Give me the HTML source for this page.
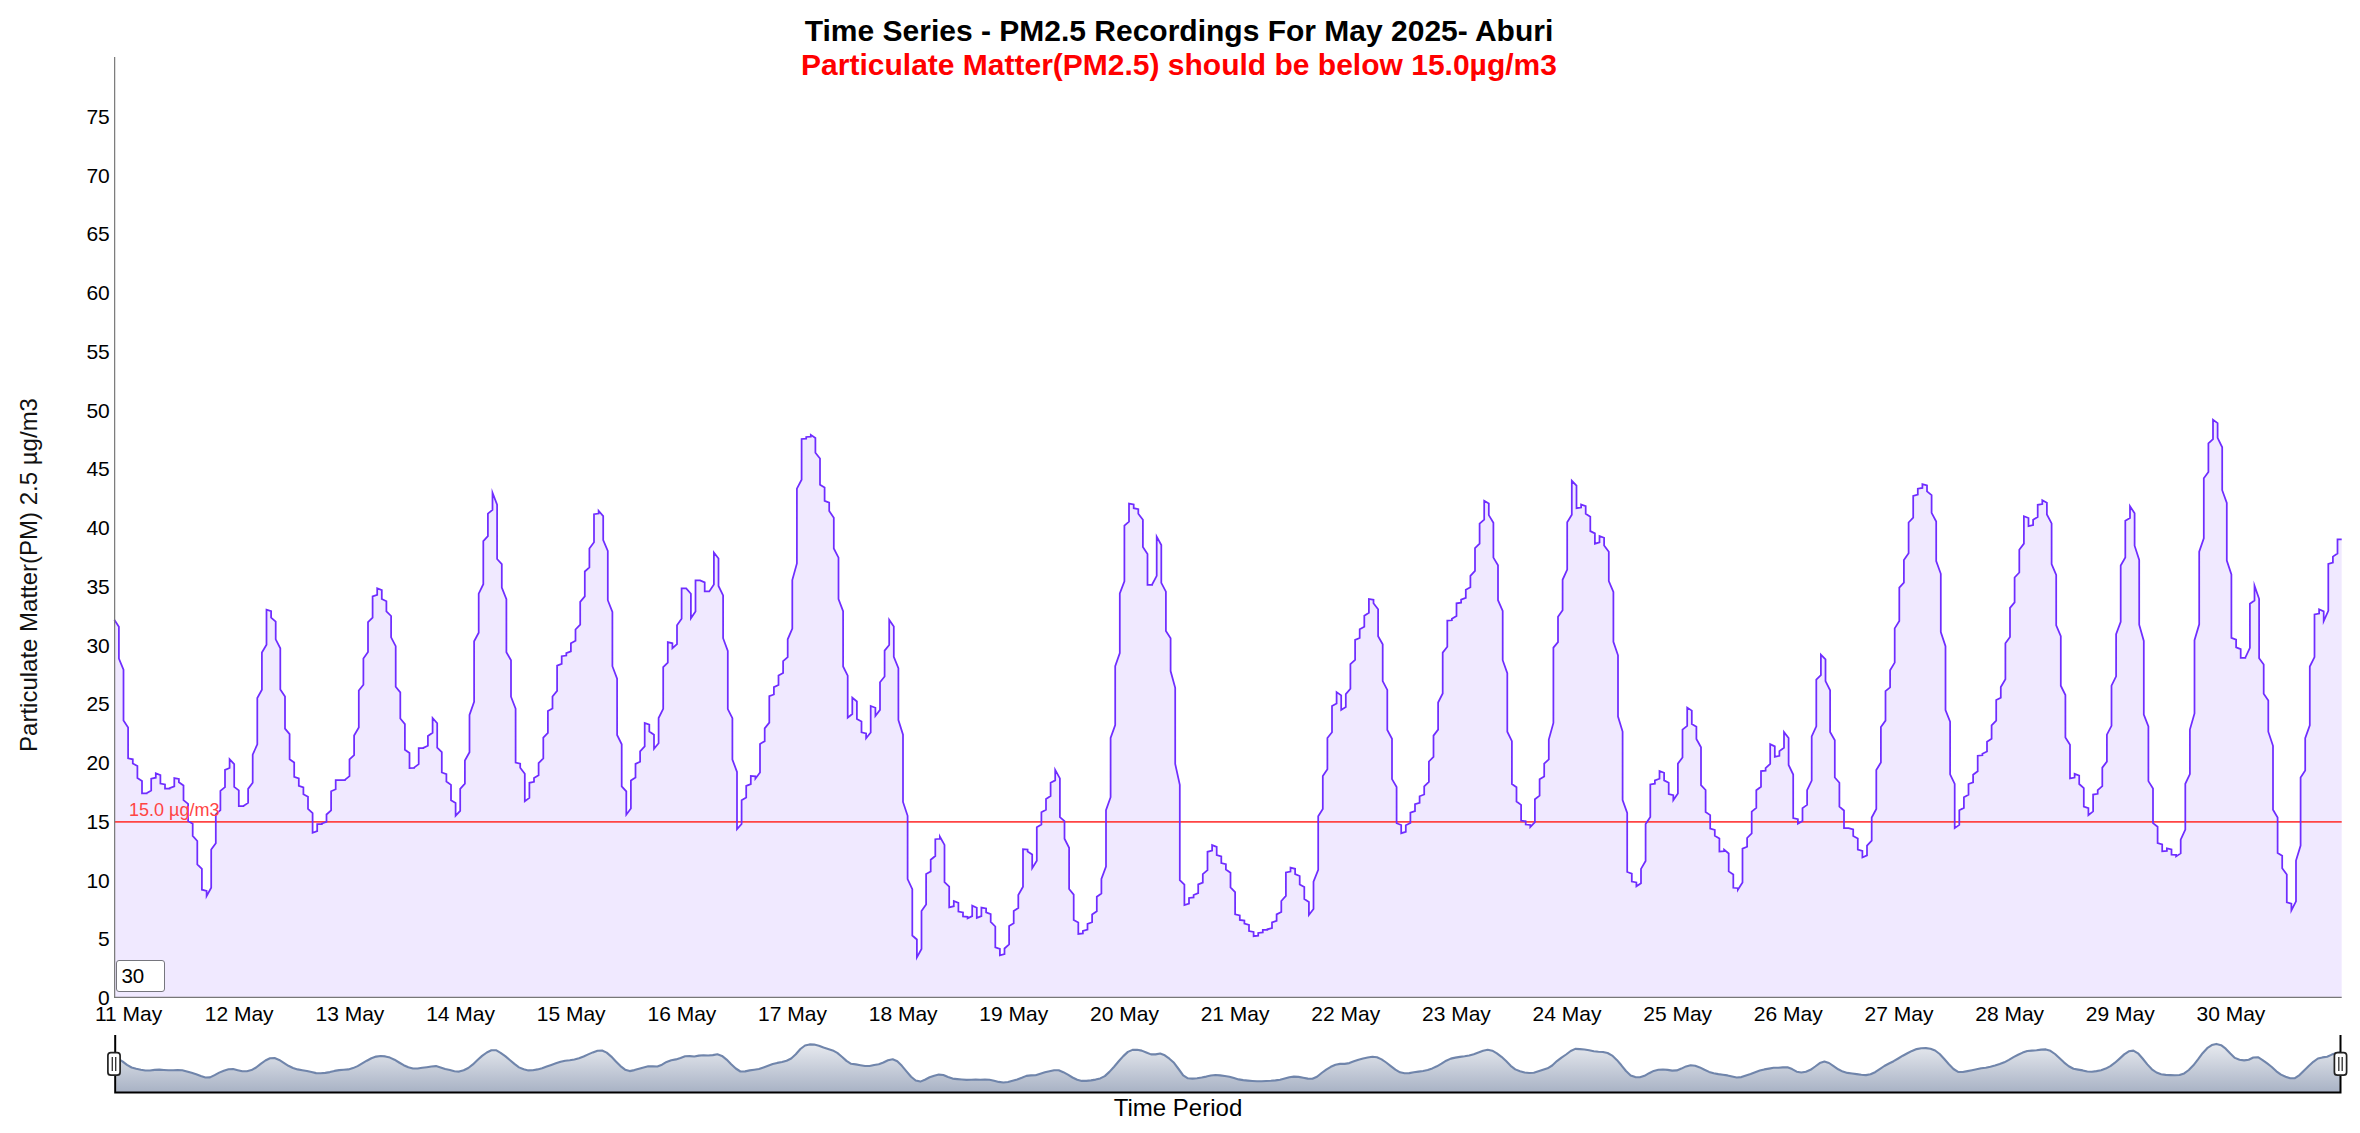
<!DOCTYPE html>
<html lang="en"><head><meta charset="utf-8"><title>Time Series - PM2.5 Recordings For May 2025- Aburi</title>
<style>
html,body{margin:0;padding:0;background:#fff;}
body{width:2360px;height:1133px;position:relative;overflow:hidden;font-family:'Liberation Sans', sans-serif;color:#000;}
svg{position:absolute;left:0;top:0;}
.t{position:absolute;white-space:nowrap;line-height:1;}
.title{left:1px;width:2356px;text-align:center;font-weight:bold;font-size:30px;}
.yl{font-size:21px;width:60px;text-align:right;left:49.8px;}
.xl{font-size:21px;width:120px;text-align:center;}
.roller{position:absolute;left:116px;top:960px;height:29.6px;border:1.2px solid #76767e;border-radius:3px;background:#fff;font-size:20.5px;line-height:30px;padding-left:4.4px;box-sizing:content-box;width:42.4px;}
</style></head><body>

<svg width="2360" height="1133" viewBox="0 0 2360 1133">
<defs><linearGradient id="mg" x1="0" y1="1026" x2="0" y2="1093" gradientUnits="userSpaceOnUse"><stop offset="0" stop-color="#ffffff"/><stop offset="1" stop-color="#a7b1c4"/></linearGradient></defs>
<path d="M114.3,619.7 L118.9,626.7 L118.9,658.5 L123.5,669.7 L123.5,720.6 L128.1,727.4 L128.1,758.4 L132.8,759.3 L132.8,763.4 L137.4,766.1 L137.4,778.1 L142.0,780.9 L142.0,793.4 L146.6,793.4 L146.6,793.2 L151.2,790.6 L151.2,778.7 L155.8,777.7 L155.8,773.2 L160.4,775.1 L160.4,783.5 L165.0,784.5 L165.0,788.7 L169.6,788.6 L169.6,788.1 L174.3,786.3 L174.3,778.1 L178.9,778.9 L178.9,782.2 L183.5,785.5 L183.5,800.1 L188.1,803.9 L188.1,821.1 L192.7,823.8 L192.7,835.9 L197.3,841.0 L197.3,864.4 L201.9,868.9 L201.9,889.7 L206.6,890.9 L206.6,896.1 L211.2,887.7 L211.2,849.6 L215.8,843.2 L215.8,814.3 L220.4,810.1 L220.4,790.8 L225.0,787.1 L225.0,769.9 L229.6,768.0 L229.6,759.2 L234.2,764.2 L234.2,786.9 L238.8,790.4 L238.8,806.2 L243.4,806.2 L243.4,806.0 L248.1,802.9 L248.1,788.9 L252.7,782.8 L252.7,754.6 L257.3,744.4 L257.3,698.0 L261.9,689.8 L261.9,652.6 L266.5,644.8 L266.5,609.7 L271.1,611.1 L271.1,617.7 L275.7,621.6 L275.7,639.3 L280.3,648.3 L280.3,689.4 L285.0,696.5 L285.0,728.6 L289.6,734.1 L289.6,759.3 L294.2,762.5 L294.2,776.8 L298.8,778.4 L298.8,785.8 L303.4,787.3 L303.4,794.2 L308.0,796.8 L308.0,808.8 L312.6,813.1 L312.6,832.8 L317.2,831.2 L317.2,824.2 L321.9,824.1 L321.9,823.5 L326.5,821.9 L326.5,814.5 L331.1,810.3 L331.1,791.2 L335.7,789.2 L335.7,780.2 L340.3,780.2 L340.3,780.2 L344.9,780.2 L344.9,779.9 L349.5,776.2 L349.5,759.3 L354.1,755.1 L354.1,735.6 L358.8,727.5 L358.8,690.5 L363.4,684.7 L363.4,658.5 L368.0,652.0 L368.0,622.2 L372.6,617.6 L372.6,596.4 L377.2,594.9 L377.2,588.2 L381.8,590.1 L381.8,599.0 L386.4,601.2 L386.4,611.3 L391.1,616.0 L391.1,637.3 L395.7,646.2 L395.7,686.7 L400.3,692.4 L400.3,718.5 L404.9,724.1 L404.9,749.7 L409.5,753.0 L409.5,768.1 L414.1,768.0 L414.1,767.6 L418.7,764.1 L418.7,748.2 L423.3,748.1 L423.3,747.9 L427.9,745.8 L427.9,736.0 L432.6,732.7 L432.6,718.0 L437.2,723.3 L437.2,747.6 L441.8,752.1 L441.8,772.5 L446.4,774.1 L446.4,781.5 L451.0,784.9 L451.0,800.2 L455.6,803.0 L455.6,815.7 L460.2,810.9 L460.2,788.8 L464.9,783.7 L464.9,760.5 L469.5,752.3 L469.5,715.0 L474.1,701.8 L474.1,641.3 L478.7,632.7 L478.7,593.7 L483.3,584.2 L483.3,541.1 L487.9,536.1 L487.9,513.7 L492.5,509.9 L492.5,492.7 L497.1,504.6 L497.1,559.0 L501.8,564.2 L501.8,587.5 L506.4,599.1 L506.4,652.2 L511.0,660.2 L511.0,696.7 L515.6,708.6 L515.6,762.6 L520.2,763.6 L520.2,767.8 L524.8,773.8 L524.8,801.2 L529.4,797.9 L529.4,782.8 L534.0,781.9 L534.0,777.9 L538.6,775.2 L538.6,763.1 L543.3,758.5 L543.3,737.6 L547.9,732.8 L547.9,711.1 L552.5,708.4 L552.5,696.5 L557.1,690.9 L557.1,665.6 L561.7,663.9 L561.7,656.2 L566.3,655.6 L566.3,653.1 L570.9,651.4 L570.9,643.3 L575.5,640.8 L575.5,629.5 L580.2,624.6 L580.2,601.9 L584.8,596.4 L584.8,571.5 L589.4,567.4 L589.4,548.5 L594.0,542.3 L594.0,514.2 L598.6,513.6 L598.6,510.8 L603.2,516.1 L603.2,540.1 L607.8,550.9 L607.8,600.2 L612.4,612.0 L612.4,666.2 L617.1,678.6 L617.1,735.0 L621.7,744.3 L621.7,786.4 L626.3,791.4 L626.3,814.7 L630.9,808.5 L630.9,780.5 L635.5,777.5 L635.5,763.9 L640.1,761.7 L640.1,751.3 L644.7,746.3 L644.7,723.0 L649.3,724.6 L649.3,731.6 L654.0,734.7 L654.0,748.9 L658.6,743.3 L658.6,718.0 L663.2,708.8 L663.2,667.1 L667.8,662.6 L667.8,642.2 L672.4,643.3 L672.4,648.2 L677.0,644.1 L677.0,625.3 L681.6,618.7 L681.6,588.4 L686.2,588.4 L686.2,588.4 L690.9,593.8 L690.9,618.3 L695.5,611.4 L695.5,580.4 L700.1,580.4 L700.1,580.4 L704.7,582.4 L704.7,591.4 L709.3,591.4 L709.3,591.4 L713.9,584.4 L713.9,552.5 L718.5,558.5 L718.5,586.0 L723.1,595.4 L723.1,638.2 L727.8,651.0 L727.8,709.1 L732.4,718.1 L732.4,759.5 L737.0,772.0 L737.0,829.2 L741.6,824.0 L741.6,800.2 L746.2,797.6 L746.2,785.9 L750.8,784.1 L750.8,775.9 L755.4,776.4 L755.4,778.7 L760.0,772.5 L760.0,743.9 L764.7,741.2 L764.7,728.4 L769.3,722.6 L769.3,696.1 L773.9,694.5 L773.9,687.1 L778.5,685.0 L778.5,675.6 L783.1,673.0 L783.1,661.1 L787.7,657.2 L787.7,639.3 L792.3,628.6 L792.3,580.0 L796.9,563.5 L796.9,488.7 L801.6,479.7 L801.6,439.0 L806.2,438.6 L806.2,437.0 L810.8,436.6 L810.8,434.8 L815.4,438.0 L815.4,452.7 L820.0,458.5 L820.0,484.7 L824.6,487.6 L824.6,500.8 L829.2,502.6 L829.2,511.1 L833.8,517.8 L833.8,548.5 L838.5,557.6 L838.5,599.1 L843.1,611.2 L843.1,666.5 L847.7,675.7 L847.7,717.6 L852.3,714.0 L852.3,697.7 L856.9,701.5 L856.9,719.0 L861.5,721.5 L861.5,732.4 L866.1,733.5 L866.1,738.3 L870.7,732.5 L870.7,706.0 L875.4,707.8 L875.4,716.0 L880.0,709.9 L880.0,682.2 L884.6,676.5 L884.6,650.6 L889.2,645.0 L889.2,619.9 L893.8,626.5 L893.8,656.8 L898.4,668.2 L898.4,720.0 L903.0,734.7 L903.0,801.9 L907.6,815.8 L907.6,879.0 L912.3,889.2 L912.3,935.5 L916.9,939.5 L916.9,957.4 L921.5,949.0 L921.5,911.0 L926.1,904.4 L926.1,874.1 L930.7,871.5 L930.7,859.7 L935.3,856.0 L935.3,839.2 L939.9,838.8 L939.9,836.7 L944.5,844.9 L944.5,882.1 L949.2,886.6 L949.2,907.3 L953.8,906.2 L953.8,901.0 L958.4,902.9 L958.4,911.6 L963.0,912.4 L963.0,916.4 L967.6,916.8 L967.6,918.4 L972.2,916.1 L972.2,905.6 L976.8,907.8 L976.8,917.9 L981.4,916.1 L981.4,907.6 L986.1,908.4 L986.1,912.4 L990.7,914.1 L990.7,921.9 L995.3,926.5 L995.3,947.4 L999.9,948.8 L999.9,955.4 L1004.5,954.1 L1004.5,948.5 L1009.1,944.4 L1009.1,925.9 L1013.7,923.2 L1013.7,911.0 L1018.3,908.1 L1018.3,895.0 L1023.0,886.7 L1023.0,849.1 L1027.6,849.5 L1027.6,851.5 L1032.2,854.5 L1032.2,868.1 L1036.8,860.8 L1036.8,827.2 L1041.4,824.5 L1041.4,812.2 L1046.0,809.8 L1046.0,798.9 L1050.6,796.0 L1050.6,782.7 L1055.2,780.4 L1055.2,769.9 L1059.9,778.4 L1059.9,817.2 L1064.5,821.1 L1064.5,838.7 L1069.1,847.8 L1069.1,889.0 L1073.7,894.6 L1073.7,919.9 L1078.3,922.4 L1078.3,933.9 L1082.9,933.4 L1082.9,931.0 L1087.5,929.7 L1087.5,923.9 L1092.1,922.2 L1092.1,914.5 L1096.8,911.3 L1096.8,896.7 L1101.4,893.5 L1101.4,879.0 L1106.0,866.6 L1106.0,810.2 L1110.6,797.2 L1110.6,738.0 L1115.2,725.0 L1115.2,666.2 L1119.8,653.1 L1119.8,593.5 L1124.4,581.3 L1124.4,525.7 L1129.0,521.7 L1129.0,503.6 L1133.7,504.4 L1133.7,508.2 L1138.3,509.2 L1138.3,513.7 L1142.9,519.7 L1142.9,547.1 L1147.5,553.9 L1147.5,584.9 L1152.1,584.8 L1152.1,584.5 L1156.7,575.9 L1156.7,536.7 L1161.3,545.0 L1161.3,582.9 L1165.9,591.6 L1165.9,631.1 L1170.6,638.3 L1170.6,671.1 L1175.2,687.8 L1175.2,763.9 L1179.8,784.8 L1179.8,880.1 L1184.4,884.6 L1184.4,905.0 L1189.0,903.7 L1189.0,898.0 L1193.6,897.4 L1193.6,895.0 L1198.2,893.1 L1198.2,884.4 L1202.8,882.6 L1202.8,874.1 L1207.5,870.1 L1207.5,851.8 L1212.1,850.6 L1212.1,845.1 L1216.7,846.9 L1216.7,855.1 L1221.3,856.5 L1221.3,863.1 L1225.9,864.2 L1225.9,869.5 L1230.5,872.7 L1230.5,887.4 L1235.1,892.2 L1235.1,914.4 L1239.8,915.4 L1239.8,919.9 L1244.4,920.6 L1244.4,923.6 L1249.0,924.9 L1249.0,931.0 L1253.6,931.9 L1253.6,936.2 L1258.2,935.7 L1258.2,933.0 L1262.8,932.4 L1262.8,929.9 L1267.4,929.8 L1267.4,929.3 L1272.0,928.1 L1272.0,922.4 L1276.6,920.9 L1276.6,914.4 L1281.3,912.0 L1281.3,901.0 L1285.9,895.9 L1285.9,872.5 L1290.5,871.6 L1290.5,867.6 L1295.1,868.8 L1295.1,874.1 L1299.7,876.0 L1299.7,884.4 L1304.3,887.1 L1304.3,899.0 L1308.9,901.9 L1308.9,915.0 L1313.5,909.0 L1313.5,881.6 L1318.2,869.8 L1318.2,816.2 L1322.8,809.0 L1322.8,776.1 L1327.4,769.3 L1327.4,738.0 L1332.0,732.2 L1332.0,706.0 L1336.6,703.5 L1336.6,692.1 L1341.2,695.4 L1341.2,710.0 L1345.8,707.1 L1345.8,694.1 L1350.4,688.7 L1350.4,664.2 L1355.1,659.8 L1355.1,639.9 L1359.7,638.0 L1359.7,629.3 L1364.3,626.8 L1364.3,615.7 L1368.9,612.7 L1368.9,599.0 L1373.5,599.8 L1373.5,603.3 L1378.1,609.3 L1378.1,636.2 L1382.7,644.3 L1382.7,681.1 L1387.3,689.9 L1387.3,730.0 L1392.0,738.8 L1392.0,779.1 L1396.6,787.0 L1396.6,823.2 L1401.2,825.0 L1401.2,833.2 L1405.8,831.8 L1405.8,825.2 L1410.4,823.0 L1410.4,812.7 L1415.0,811.1 L1415.0,804.2 L1419.6,802.8 L1419.6,796.3 L1424.2,794.5 L1424.2,786.4 L1428.9,781.9 L1428.9,761.5 L1433.5,756.8 L1433.5,735.6 L1438.1,729.6 L1438.1,702.5 L1442.7,693.5 L1442.7,652.6 L1447.3,646.8 L1447.3,620.6 L1451.9,620.3 L1451.9,618.7 L1456.5,616.0 L1456.5,603.3 L1461.1,602.7 L1461.1,599.7 L1465.8,597.9 L1465.8,589.8 L1470.4,587.3 L1470.4,575.8 L1475.0,570.8 L1475.0,548.0 L1479.6,543.6 L1479.6,523.7 L1484.2,519.6 L1484.2,500.8 L1488.8,503.4 L1488.8,515.1 L1493.4,522.8 L1493.4,557.6 L1498.0,565.3 L1498.0,600.2 L1502.7,611.0 L1502.7,660.2 L1507.3,673.1 L1507.3,731.7 L1511.9,741.1 L1511.9,784.0 L1516.5,787.2 L1516.5,801.5 L1521.1,804.9 L1521.1,820.5 L1525.7,821.3 L1525.7,824.5 L1530.3,825.0 L1530.3,827.1 L1534.9,822.1 L1534.9,799.2 L1539.6,795.6 L1539.6,779.3 L1544.2,776.5 L1544.2,763.6 L1548.8,759.3 L1548.8,739.6 L1553.4,723.0 L1553.4,647.6 L1558.0,642.1 L1558.0,616.8 L1562.6,610.2 L1562.6,579.8 L1567.2,569.5 L1567.2,522.2 L1571.8,514.7 L1571.8,480.8 L1576.5,485.7 L1576.5,508.2 L1581.1,507.5 L1581.1,504.5 L1585.7,506.2 L1585.7,513.7 L1590.3,516.8 L1590.3,531.1 L1594.9,533.4 L1594.9,543.7 L1599.5,542.3 L1599.5,536.1 L1604.1,537.8 L1604.1,545.4 L1608.8,551.8 L1608.8,581.0 L1613.4,592.0 L1613.4,641.9 L1618.0,655.3 L1618.0,716.6 L1622.6,731.6 L1622.6,800.1 L1627.2,813.0 L1627.2,872.0 L1631.8,873.7 L1631.8,881.5 L1636.4,882.4 L1636.4,886.3 L1641.0,883.2 L1641.0,868.9 L1645.6,860.9 L1645.6,824.1 L1650.3,816.9 L1650.3,784.5 L1654.9,783.7 L1654.9,780.4 L1659.5,778.7 L1659.5,771.1 L1664.1,772.8 L1664.1,780.4 L1668.7,782.8 L1668.7,794.1 L1673.3,795.2 L1673.3,800.1 L1677.9,793.5 L1677.9,763.6 L1682.5,757.5 L1682.5,729.7 L1687.2,725.8 L1687.2,707.6 L1691.8,710.6 L1691.8,724.0 L1696.4,726.7 L1696.4,739.0 L1701.0,747.3 L1701.0,785.2 L1705.6,790.0 L1705.6,812.1 L1710.2,815.1 L1710.2,828.6 L1714.8,829.9 L1714.8,835.7 L1719.4,838.5 L1719.4,851.5 L1724.1,851.2 L1724.1,849.6 L1728.7,853.5 L1728.7,871.4 L1733.3,874.4 L1733.3,887.8 L1737.9,888.2 L1737.9,889.8 L1742.5,882.4 L1742.5,848.6 L1747.1,846.7 L1747.1,838.0 L1751.7,833.3 L1751.7,811.7 L1756.3,807.9 L1756.3,790.2 L1761.0,786.8 L1761.0,771.1 L1765.6,770.6 L1765.6,768.1 L1770.2,763.8 L1770.2,744.1 L1774.8,746.4 L1774.8,756.9 L1779.4,755.8 L1779.4,751.1 L1784.0,747.7 L1784.0,732.1 L1788.6,738.0 L1788.6,765.0 L1793.2,774.5 L1793.2,818.1 L1797.9,819.1 L1797.9,823.7 L1802.5,820.9 L1802.5,808.1 L1807.1,804.9 L1807.1,790.2 L1811.7,780.6 L1811.7,736.5 L1816.3,726.3 L1816.3,679.7 L1820.9,675.2 L1820.9,654.6 L1825.5,659.3 L1825.5,681.1 L1830.1,690.3 L1830.1,732.0 L1834.8,740.2 L1834.8,777.5 L1839.4,782.8 L1839.4,806.7 L1844.0,810.5 L1844.0,828.1 L1848.6,828.1 L1848.6,828.1 L1853.2,829.5 L1853.2,836.0 L1857.8,838.5 L1857.8,849.6 L1862.4,851.0 L1862.4,857.5 L1867.0,855.4 L1867.0,845.7 L1871.7,840.6 L1871.7,817.5 L1876.3,809.0 L1876.3,770.1 L1880.9,762.4 L1880.9,727.0 L1885.5,720.6 L1885.5,691.1 L1890.1,687.3 L1890.1,670.2 L1894.7,662.6 L1894.7,628.4 L1899.3,621.0 L1899.3,587.6 L1903.9,582.6 L1903.9,560.0 L1908.6,553.2 L1908.6,522.5 L1913.2,517.7 L1913.2,495.9 L1917.8,494.6 L1917.8,488.7 L1922.4,487.9 L1922.4,484.2 L1927.0,485.5 L1927.0,491.3 L1931.6,495.1 L1931.6,512.8 L1936.2,521.5 L1936.2,561.0 L1940.8,573.8 L1940.8,632.1 L1945.5,646.1 L1945.5,710.0 L1950.1,721.6 L1950.1,774.3 L1954.7,783.9 L1954.7,828.1 L1959.3,824.9 L1959.3,810.3 L1963.9,807.9 L1963.9,797.2 L1968.5,794.8 L1968.5,784.0 L1973.1,782.3 L1973.1,774.7 L1977.7,771.3 L1977.7,755.7 L1982.4,755.3 L1982.4,753.7 L1987.0,751.5 L1987.0,741.7 L1991.6,738.8 L1991.6,725.3 L1996.2,720.7 L1996.2,700.0 L2000.8,697.7 L2000.8,687.1 L2005.4,679.2 L2005.4,643.3 L2010.0,636.9 L2010.0,607.9 L2014.6,602.4 L2014.6,577.5 L2019.3,572.5 L2019.3,549.7 L2023.9,543.6 L2023.9,516.2 L2028.5,518.0 L2028.5,526.2 L2033.1,525.0 L2033.1,519.7 L2037.7,517.0 L2037.7,504.8 L2042.3,504.0 L2042.3,500.2 L2046.9,502.8 L2046.9,514.5 L2051.6,523.4 L2051.6,564.0 L2056.2,575.0 L2056.2,625.3 L2060.8,636.2 L2060.8,685.7 L2065.4,695.0 L2065.4,737.5 L2070.0,744.8 L2070.0,778.4 L2074.6,777.5 L2074.6,773.8 L2079.2,775.6 L2079.2,784.0 L2083.8,788.1 L2083.8,806.6 L2088.4,808.1 L2088.4,815.1 L2093.1,811.4 L2093.1,794.6 L2097.7,793.8 L2097.7,790.2 L2102.3,786.1 L2102.3,767.6 L2106.9,761.6 L2106.9,734.7 L2111.5,725.8 L2111.5,685.7 L2116.1,676.4 L2116.1,634.2 L2120.7,621.9 L2120.7,565.5 L2125.3,557.5 L2125.3,520.8 L2130.0,518.1 L2130.0,506.2 L2134.6,513.3 L2134.6,545.7 L2139.2,559.9 L2139.2,624.7 L2143.8,640.9 L2143.8,714.6 L2148.4,726.5 L2148.4,781.1 L2153.0,788.6 L2153.0,823.1 L2157.6,826.7 L2157.6,843.0 L2162.2,844.5 L2162.2,851.4 L2166.9,850.9 L2166.9,848.4 L2171.5,849.5 L2171.5,854.6 L2176.1,854.9 L2176.1,856.4 L2180.7,853.4 L2180.7,839.7 L2185.3,829.6 L2185.3,783.8 L2189.9,774.0 L2189.9,729.5 L2194.5,713.4 L2194.5,640.2 L2199.2,624.3 L2199.2,551.6 L2203.8,538.4 L2203.8,478.2 L2208.4,472.0 L2208.4,443.3 L2213.0,439.1 L2213.0,419.8 L2217.6,423.1 L2217.6,437.9 L2222.2,447.3 L2222.2,490.2 L2226.8,502.9 L2226.8,560.6 L2231.4,574.5 L2231.4,637.9 L2236.1,639.6 L2236.1,647.3 L2240.7,649.2 L2240.7,657.8 L2245.3,657.8 L2245.3,657.6 L2249.9,647.9 L2249.9,603.7 L2254.5,600.5 L2254.5,585.7 L2259.1,598.8 L2259.1,658.2 L2263.7,664.6 L2263.7,693.7 L2268.3,700.5 L2268.3,731.7 L2273.0,745.8 L2273.0,809.7 L2277.6,817.5 L2277.6,853.0 L2282.2,855.7 L2282.2,868.3 L2286.8,874.5 L2286.8,902.3 L2291.4,903.7 L2291.4,910.3 L2296.0,901.3 L2296.0,860.6 L2300.6,845.6 L2300.6,777.5 L2305.2,770.5 L2305.2,738.2 L2309.8,725.3 L2309.8,666.5 L2314.5,657.1 L2314.5,614.4 L2319.1,613.5 L2319.1,609.3 L2323.7,611.4 L2323.7,621.1 L2328.3,610.8 L2328.3,564.0 L2332.9,562.7 L2332.9,556.6 L2337.5,553.5 L2337.5,539.4 L2341.7,539.4 L2341.7,539.4 L2341.7,997.8 L114.3,997.8 Z" fill="#6f2dff" fill-opacity="0.105" stroke="none"/>
<line x1="114.3" y1="821.8" x2="2341.7" y2="821.8" stroke="#f44" stroke-width="1.8"/>
<path d="M114.3,619.7 L118.9,626.7 L118.9,658.5 L123.5,669.7 L123.5,720.6 L128.1,727.4 L128.1,758.4 L132.8,759.3 L132.8,763.4 L137.4,766.1 L137.4,778.1 L142.0,780.9 L142.0,793.4 L146.6,793.4 L146.6,793.2 L151.2,790.6 L151.2,778.7 L155.8,777.7 L155.8,773.2 L160.4,775.1 L160.4,783.5 L165.0,784.5 L165.0,788.7 L169.6,788.6 L169.6,788.1 L174.3,786.3 L174.3,778.1 L178.9,778.9 L178.9,782.2 L183.5,785.5 L183.5,800.1 L188.1,803.9 L188.1,821.1 L192.7,823.8 L192.7,835.9 L197.3,841.0 L197.3,864.4 L201.9,868.9 L201.9,889.7 L206.6,890.9 L206.6,896.1 L211.2,887.7 L211.2,849.6 L215.8,843.2 L215.8,814.3 L220.4,810.1 L220.4,790.8 L225.0,787.1 L225.0,769.9 L229.6,768.0 L229.6,759.2 L234.2,764.2 L234.2,786.9 L238.8,790.4 L238.8,806.2 L243.4,806.2 L243.4,806.0 L248.1,802.9 L248.1,788.9 L252.7,782.8 L252.7,754.6 L257.3,744.4 L257.3,698.0 L261.9,689.8 L261.9,652.6 L266.5,644.8 L266.5,609.7 L271.1,611.1 L271.1,617.7 L275.7,621.6 L275.7,639.3 L280.3,648.3 L280.3,689.4 L285.0,696.5 L285.0,728.6 L289.6,734.1 L289.6,759.3 L294.2,762.5 L294.2,776.8 L298.8,778.4 L298.8,785.8 L303.4,787.3 L303.4,794.2 L308.0,796.8 L308.0,808.8 L312.6,813.1 L312.6,832.8 L317.2,831.2 L317.2,824.2 L321.9,824.1 L321.9,823.5 L326.5,821.9 L326.5,814.5 L331.1,810.3 L331.1,791.2 L335.7,789.2 L335.7,780.2 L340.3,780.2 L340.3,780.2 L344.9,780.2 L344.9,779.9 L349.5,776.2 L349.5,759.3 L354.1,755.1 L354.1,735.6 L358.8,727.5 L358.8,690.5 L363.4,684.7 L363.4,658.5 L368.0,652.0 L368.0,622.2 L372.6,617.6 L372.6,596.4 L377.2,594.9 L377.2,588.2 L381.8,590.1 L381.8,599.0 L386.4,601.2 L386.4,611.3 L391.1,616.0 L391.1,637.3 L395.7,646.2 L395.7,686.7 L400.3,692.4 L400.3,718.5 L404.9,724.1 L404.9,749.7 L409.5,753.0 L409.5,768.1 L414.1,768.0 L414.1,767.6 L418.7,764.1 L418.7,748.2 L423.3,748.1 L423.3,747.9 L427.9,745.8 L427.9,736.0 L432.6,732.7 L432.6,718.0 L437.2,723.3 L437.2,747.6 L441.8,752.1 L441.8,772.5 L446.4,774.1 L446.4,781.5 L451.0,784.9 L451.0,800.2 L455.6,803.0 L455.6,815.7 L460.2,810.9 L460.2,788.8 L464.9,783.7 L464.9,760.5 L469.5,752.3 L469.5,715.0 L474.1,701.8 L474.1,641.3 L478.7,632.7 L478.7,593.7 L483.3,584.2 L483.3,541.1 L487.9,536.1 L487.9,513.7 L492.5,509.9 L492.5,492.7 L497.1,504.6 L497.1,559.0 L501.8,564.2 L501.8,587.5 L506.4,599.1 L506.4,652.2 L511.0,660.2 L511.0,696.7 L515.6,708.6 L515.6,762.6 L520.2,763.6 L520.2,767.8 L524.8,773.8 L524.8,801.2 L529.4,797.9 L529.4,782.8 L534.0,781.9 L534.0,777.9 L538.6,775.2 L538.6,763.1 L543.3,758.5 L543.3,737.6 L547.9,732.8 L547.9,711.1 L552.5,708.4 L552.5,696.5 L557.1,690.9 L557.1,665.6 L561.7,663.9 L561.7,656.2 L566.3,655.6 L566.3,653.1 L570.9,651.4 L570.9,643.3 L575.5,640.8 L575.5,629.5 L580.2,624.6 L580.2,601.9 L584.8,596.4 L584.8,571.5 L589.4,567.4 L589.4,548.5 L594.0,542.3 L594.0,514.2 L598.6,513.6 L598.6,510.8 L603.2,516.1 L603.2,540.1 L607.8,550.9 L607.8,600.2 L612.4,612.0 L612.4,666.2 L617.1,678.6 L617.1,735.0 L621.7,744.3 L621.7,786.4 L626.3,791.4 L626.3,814.7 L630.9,808.5 L630.9,780.5 L635.5,777.5 L635.5,763.9 L640.1,761.7 L640.1,751.3 L644.7,746.3 L644.7,723.0 L649.3,724.6 L649.3,731.6 L654.0,734.7 L654.0,748.9 L658.6,743.3 L658.6,718.0 L663.2,708.8 L663.2,667.1 L667.8,662.6 L667.8,642.2 L672.4,643.3 L672.4,648.2 L677.0,644.1 L677.0,625.3 L681.6,618.7 L681.6,588.4 L686.2,588.4 L686.2,588.4 L690.9,593.8 L690.9,618.3 L695.5,611.4 L695.5,580.4 L700.1,580.4 L700.1,580.4 L704.7,582.4 L704.7,591.4 L709.3,591.4 L709.3,591.4 L713.9,584.4 L713.9,552.5 L718.5,558.5 L718.5,586.0 L723.1,595.4 L723.1,638.2 L727.8,651.0 L727.8,709.1 L732.4,718.1 L732.4,759.5 L737.0,772.0 L737.0,829.2 L741.6,824.0 L741.6,800.2 L746.2,797.6 L746.2,785.9 L750.8,784.1 L750.8,775.9 L755.4,776.4 L755.4,778.7 L760.0,772.5 L760.0,743.9 L764.7,741.2 L764.7,728.4 L769.3,722.6 L769.3,696.1 L773.9,694.5 L773.9,687.1 L778.5,685.0 L778.5,675.6 L783.1,673.0 L783.1,661.1 L787.7,657.2 L787.7,639.3 L792.3,628.6 L792.3,580.0 L796.9,563.5 L796.9,488.7 L801.6,479.7 L801.6,439.0 L806.2,438.6 L806.2,437.0 L810.8,436.6 L810.8,434.8 L815.4,438.0 L815.4,452.7 L820.0,458.5 L820.0,484.7 L824.6,487.6 L824.6,500.8 L829.2,502.6 L829.2,511.1 L833.8,517.8 L833.8,548.5 L838.5,557.6 L838.5,599.1 L843.1,611.2 L843.1,666.5 L847.7,675.7 L847.7,717.6 L852.3,714.0 L852.3,697.7 L856.9,701.5 L856.9,719.0 L861.5,721.5 L861.5,732.4 L866.1,733.5 L866.1,738.3 L870.7,732.5 L870.7,706.0 L875.4,707.8 L875.4,716.0 L880.0,709.9 L880.0,682.2 L884.6,676.5 L884.6,650.6 L889.2,645.0 L889.2,619.9 L893.8,626.5 L893.8,656.8 L898.4,668.2 L898.4,720.0 L903.0,734.7 L903.0,801.9 L907.6,815.8 L907.6,879.0 L912.3,889.2 L912.3,935.5 L916.9,939.5 L916.9,957.4 L921.5,949.0 L921.5,911.0 L926.1,904.4 L926.1,874.1 L930.7,871.5 L930.7,859.7 L935.3,856.0 L935.3,839.2 L939.9,838.8 L939.9,836.7 L944.5,844.9 L944.5,882.1 L949.2,886.6 L949.2,907.3 L953.8,906.2 L953.8,901.0 L958.4,902.9 L958.4,911.6 L963.0,912.4 L963.0,916.4 L967.6,916.8 L967.6,918.4 L972.2,916.1 L972.2,905.6 L976.8,907.8 L976.8,917.9 L981.4,916.1 L981.4,907.6 L986.1,908.4 L986.1,912.4 L990.7,914.1 L990.7,921.9 L995.3,926.5 L995.3,947.4 L999.9,948.8 L999.9,955.4 L1004.5,954.1 L1004.5,948.5 L1009.1,944.4 L1009.1,925.9 L1013.7,923.2 L1013.7,911.0 L1018.3,908.1 L1018.3,895.0 L1023.0,886.7 L1023.0,849.1 L1027.6,849.5 L1027.6,851.5 L1032.2,854.5 L1032.2,868.1 L1036.8,860.8 L1036.8,827.2 L1041.4,824.5 L1041.4,812.2 L1046.0,809.8 L1046.0,798.9 L1050.6,796.0 L1050.6,782.7 L1055.2,780.4 L1055.2,769.9 L1059.9,778.4 L1059.9,817.2 L1064.5,821.1 L1064.5,838.7 L1069.1,847.8 L1069.1,889.0 L1073.7,894.6 L1073.7,919.9 L1078.3,922.4 L1078.3,933.9 L1082.9,933.4 L1082.9,931.0 L1087.5,929.7 L1087.5,923.9 L1092.1,922.2 L1092.1,914.5 L1096.8,911.3 L1096.8,896.7 L1101.4,893.5 L1101.4,879.0 L1106.0,866.6 L1106.0,810.2 L1110.6,797.2 L1110.6,738.0 L1115.2,725.0 L1115.2,666.2 L1119.8,653.1 L1119.8,593.5 L1124.4,581.3 L1124.4,525.7 L1129.0,521.7 L1129.0,503.6 L1133.7,504.4 L1133.7,508.2 L1138.3,509.2 L1138.3,513.7 L1142.9,519.7 L1142.9,547.1 L1147.5,553.9 L1147.5,584.9 L1152.1,584.8 L1152.1,584.5 L1156.7,575.9 L1156.7,536.7 L1161.3,545.0 L1161.3,582.9 L1165.9,591.6 L1165.9,631.1 L1170.6,638.3 L1170.6,671.1 L1175.2,687.8 L1175.2,763.9 L1179.8,784.8 L1179.8,880.1 L1184.4,884.6 L1184.4,905.0 L1189.0,903.7 L1189.0,898.0 L1193.6,897.4 L1193.6,895.0 L1198.2,893.1 L1198.2,884.4 L1202.8,882.6 L1202.8,874.1 L1207.5,870.1 L1207.5,851.8 L1212.1,850.6 L1212.1,845.1 L1216.7,846.9 L1216.7,855.1 L1221.3,856.5 L1221.3,863.1 L1225.9,864.2 L1225.9,869.5 L1230.5,872.7 L1230.5,887.4 L1235.1,892.2 L1235.1,914.4 L1239.8,915.4 L1239.8,919.9 L1244.4,920.6 L1244.4,923.6 L1249.0,924.9 L1249.0,931.0 L1253.6,931.9 L1253.6,936.2 L1258.2,935.7 L1258.2,933.0 L1262.8,932.4 L1262.8,929.9 L1267.4,929.8 L1267.4,929.3 L1272.0,928.1 L1272.0,922.4 L1276.6,920.9 L1276.6,914.4 L1281.3,912.0 L1281.3,901.0 L1285.9,895.9 L1285.9,872.5 L1290.5,871.6 L1290.5,867.6 L1295.1,868.8 L1295.1,874.1 L1299.7,876.0 L1299.7,884.4 L1304.3,887.1 L1304.3,899.0 L1308.9,901.9 L1308.9,915.0 L1313.5,909.0 L1313.5,881.6 L1318.2,869.8 L1318.2,816.2 L1322.8,809.0 L1322.8,776.1 L1327.4,769.3 L1327.4,738.0 L1332.0,732.2 L1332.0,706.0 L1336.6,703.5 L1336.6,692.1 L1341.2,695.4 L1341.2,710.0 L1345.8,707.1 L1345.8,694.1 L1350.4,688.7 L1350.4,664.2 L1355.1,659.8 L1355.1,639.9 L1359.7,638.0 L1359.7,629.3 L1364.3,626.8 L1364.3,615.7 L1368.9,612.7 L1368.9,599.0 L1373.5,599.8 L1373.5,603.3 L1378.1,609.3 L1378.1,636.2 L1382.7,644.3 L1382.7,681.1 L1387.3,689.9 L1387.3,730.0 L1392.0,738.8 L1392.0,779.1 L1396.6,787.0 L1396.6,823.2 L1401.2,825.0 L1401.2,833.2 L1405.8,831.8 L1405.8,825.2 L1410.4,823.0 L1410.4,812.7 L1415.0,811.1 L1415.0,804.2 L1419.6,802.8 L1419.6,796.3 L1424.2,794.5 L1424.2,786.4 L1428.9,781.9 L1428.9,761.5 L1433.5,756.8 L1433.5,735.6 L1438.1,729.6 L1438.1,702.5 L1442.7,693.5 L1442.7,652.6 L1447.3,646.8 L1447.3,620.6 L1451.9,620.3 L1451.9,618.7 L1456.5,616.0 L1456.5,603.3 L1461.1,602.7 L1461.1,599.7 L1465.8,597.9 L1465.8,589.8 L1470.4,587.3 L1470.4,575.8 L1475.0,570.8 L1475.0,548.0 L1479.6,543.6 L1479.6,523.7 L1484.2,519.6 L1484.2,500.8 L1488.8,503.4 L1488.8,515.1 L1493.4,522.8 L1493.4,557.6 L1498.0,565.3 L1498.0,600.2 L1502.7,611.0 L1502.7,660.2 L1507.3,673.1 L1507.3,731.7 L1511.9,741.1 L1511.9,784.0 L1516.5,787.2 L1516.5,801.5 L1521.1,804.9 L1521.1,820.5 L1525.7,821.3 L1525.7,824.5 L1530.3,825.0 L1530.3,827.1 L1534.9,822.1 L1534.9,799.2 L1539.6,795.6 L1539.6,779.3 L1544.2,776.5 L1544.2,763.6 L1548.8,759.3 L1548.8,739.6 L1553.4,723.0 L1553.4,647.6 L1558.0,642.1 L1558.0,616.8 L1562.6,610.2 L1562.6,579.8 L1567.2,569.5 L1567.2,522.2 L1571.8,514.7 L1571.8,480.8 L1576.5,485.7 L1576.5,508.2 L1581.1,507.5 L1581.1,504.5 L1585.7,506.2 L1585.7,513.7 L1590.3,516.8 L1590.3,531.1 L1594.9,533.4 L1594.9,543.7 L1599.5,542.3 L1599.5,536.1 L1604.1,537.8 L1604.1,545.4 L1608.8,551.8 L1608.8,581.0 L1613.4,592.0 L1613.4,641.9 L1618.0,655.3 L1618.0,716.6 L1622.6,731.6 L1622.6,800.1 L1627.2,813.0 L1627.2,872.0 L1631.8,873.7 L1631.8,881.5 L1636.4,882.4 L1636.4,886.3 L1641.0,883.2 L1641.0,868.9 L1645.6,860.9 L1645.6,824.1 L1650.3,816.9 L1650.3,784.5 L1654.9,783.7 L1654.9,780.4 L1659.5,778.7 L1659.5,771.1 L1664.1,772.8 L1664.1,780.4 L1668.7,782.8 L1668.7,794.1 L1673.3,795.2 L1673.3,800.1 L1677.9,793.5 L1677.9,763.6 L1682.5,757.5 L1682.5,729.7 L1687.2,725.8 L1687.2,707.6 L1691.8,710.6 L1691.8,724.0 L1696.4,726.7 L1696.4,739.0 L1701.0,747.3 L1701.0,785.2 L1705.6,790.0 L1705.6,812.1 L1710.2,815.1 L1710.2,828.6 L1714.8,829.9 L1714.8,835.7 L1719.4,838.5 L1719.4,851.5 L1724.1,851.2 L1724.1,849.6 L1728.7,853.5 L1728.7,871.4 L1733.3,874.4 L1733.3,887.8 L1737.9,888.2 L1737.9,889.8 L1742.5,882.4 L1742.5,848.6 L1747.1,846.7 L1747.1,838.0 L1751.7,833.3 L1751.7,811.7 L1756.3,807.9 L1756.3,790.2 L1761.0,786.8 L1761.0,771.1 L1765.6,770.6 L1765.6,768.1 L1770.2,763.8 L1770.2,744.1 L1774.8,746.4 L1774.8,756.9 L1779.4,755.8 L1779.4,751.1 L1784.0,747.7 L1784.0,732.1 L1788.6,738.0 L1788.6,765.0 L1793.2,774.5 L1793.2,818.1 L1797.9,819.1 L1797.9,823.7 L1802.5,820.9 L1802.5,808.1 L1807.1,804.9 L1807.1,790.2 L1811.7,780.6 L1811.7,736.5 L1816.3,726.3 L1816.3,679.7 L1820.9,675.2 L1820.9,654.6 L1825.5,659.3 L1825.5,681.1 L1830.1,690.3 L1830.1,732.0 L1834.8,740.2 L1834.8,777.5 L1839.4,782.8 L1839.4,806.7 L1844.0,810.5 L1844.0,828.1 L1848.6,828.1 L1848.6,828.1 L1853.2,829.5 L1853.2,836.0 L1857.8,838.5 L1857.8,849.6 L1862.4,851.0 L1862.4,857.5 L1867.0,855.4 L1867.0,845.7 L1871.7,840.6 L1871.7,817.5 L1876.3,809.0 L1876.3,770.1 L1880.9,762.4 L1880.9,727.0 L1885.5,720.6 L1885.5,691.1 L1890.1,687.3 L1890.1,670.2 L1894.7,662.6 L1894.7,628.4 L1899.3,621.0 L1899.3,587.6 L1903.9,582.6 L1903.9,560.0 L1908.6,553.2 L1908.6,522.5 L1913.2,517.7 L1913.2,495.9 L1917.8,494.6 L1917.8,488.7 L1922.4,487.9 L1922.4,484.2 L1927.0,485.5 L1927.0,491.3 L1931.6,495.1 L1931.6,512.8 L1936.2,521.5 L1936.2,561.0 L1940.8,573.8 L1940.8,632.1 L1945.5,646.1 L1945.5,710.0 L1950.1,721.6 L1950.1,774.3 L1954.7,783.9 L1954.7,828.1 L1959.3,824.9 L1959.3,810.3 L1963.9,807.9 L1963.9,797.2 L1968.5,794.8 L1968.5,784.0 L1973.1,782.3 L1973.1,774.7 L1977.7,771.3 L1977.7,755.7 L1982.4,755.3 L1982.4,753.7 L1987.0,751.5 L1987.0,741.7 L1991.6,738.8 L1991.6,725.3 L1996.2,720.7 L1996.2,700.0 L2000.8,697.7 L2000.8,687.1 L2005.4,679.2 L2005.4,643.3 L2010.0,636.9 L2010.0,607.9 L2014.6,602.4 L2014.6,577.5 L2019.3,572.5 L2019.3,549.7 L2023.9,543.6 L2023.9,516.2 L2028.5,518.0 L2028.5,526.2 L2033.1,525.0 L2033.1,519.7 L2037.7,517.0 L2037.7,504.8 L2042.3,504.0 L2042.3,500.2 L2046.9,502.8 L2046.9,514.5 L2051.6,523.4 L2051.6,564.0 L2056.2,575.0 L2056.2,625.3 L2060.8,636.2 L2060.8,685.7 L2065.4,695.0 L2065.4,737.5 L2070.0,744.8 L2070.0,778.4 L2074.6,777.5 L2074.6,773.8 L2079.2,775.6 L2079.2,784.0 L2083.8,788.1 L2083.8,806.6 L2088.4,808.1 L2088.4,815.1 L2093.1,811.4 L2093.1,794.6 L2097.7,793.8 L2097.7,790.2 L2102.3,786.1 L2102.3,767.6 L2106.9,761.6 L2106.9,734.7 L2111.5,725.8 L2111.5,685.7 L2116.1,676.4 L2116.1,634.2 L2120.7,621.9 L2120.7,565.5 L2125.3,557.5 L2125.3,520.8 L2130.0,518.1 L2130.0,506.2 L2134.6,513.3 L2134.6,545.7 L2139.2,559.9 L2139.2,624.7 L2143.8,640.9 L2143.8,714.6 L2148.4,726.5 L2148.4,781.1 L2153.0,788.6 L2153.0,823.1 L2157.6,826.7 L2157.6,843.0 L2162.2,844.5 L2162.2,851.4 L2166.9,850.9 L2166.9,848.4 L2171.5,849.5 L2171.5,854.6 L2176.1,854.9 L2176.1,856.4 L2180.7,853.4 L2180.7,839.7 L2185.3,829.6 L2185.3,783.8 L2189.9,774.0 L2189.9,729.5 L2194.5,713.4 L2194.5,640.2 L2199.2,624.3 L2199.2,551.6 L2203.8,538.4 L2203.8,478.2 L2208.4,472.0 L2208.4,443.3 L2213.0,439.1 L2213.0,419.8 L2217.6,423.1 L2217.6,437.9 L2222.2,447.3 L2222.2,490.2 L2226.8,502.9 L2226.8,560.6 L2231.4,574.5 L2231.4,637.9 L2236.1,639.6 L2236.1,647.3 L2240.7,649.2 L2240.7,657.8 L2245.3,657.8 L2245.3,657.6 L2249.9,647.9 L2249.9,603.7 L2254.5,600.5 L2254.5,585.7 L2259.1,598.8 L2259.1,658.2 L2263.7,664.6 L2263.7,693.7 L2268.3,700.5 L2268.3,731.7 L2273.0,745.8 L2273.0,809.7 L2277.6,817.5 L2277.6,853.0 L2282.2,855.7 L2282.2,868.3 L2286.8,874.5 L2286.8,902.3 L2291.4,903.7 L2291.4,910.3 L2296.0,901.3 L2296.0,860.6 L2300.6,845.6 L2300.6,777.5 L2305.2,770.5 L2305.2,738.2 L2309.8,725.3 L2309.8,666.5 L2314.5,657.1 L2314.5,614.4 L2319.1,613.5 L2319.1,609.3 L2323.7,611.4 L2323.7,621.1 L2328.3,610.8 L2328.3,564.0 L2332.9,562.7 L2332.9,556.6 L2337.5,553.5 L2337.5,539.4 L2341.7,539.4 L2341.7,539.4" fill="none" stroke="#6f2dff" stroke-width="1.75" stroke-linejoin="miter" stroke-miterlimit="10"/>
<line x1="114.65" y1="57" x2="114.65" y2="997.9" stroke="#777" stroke-width="1.2"/>
<line x1="114" y1="997.35" x2="2341.7" y2="997.35" stroke="#777" stroke-width="1.2"/>
<path d="M116.2,1058.7 L117.8,1058.7 L122.4,1061.3 L127.0,1064.9 L131.6,1067.5 L136.2,1068.7 L140.8,1069.7 L145.4,1070.5 L150.0,1070.5 L154.7,1069.9 L159.3,1069.6 L163.9,1070.0 L168.5,1070.3 L173.1,1070.2 L177.7,1070.0 L182.3,1070.3 L186.9,1071.4 L191.6,1072.8 L196.2,1074.2 L200.8,1076.0 L205.4,1077.5 L210.0,1077.4 L214.6,1075.1 L219.2,1072.6 L223.8,1070.7 L228.5,1069.3 L233.1,1069.0 L237.7,1070.2 L242.3,1071.3 L246.9,1071.3 L251.5,1070.1 L256.1,1067.5 L260.7,1063.9 L265.4,1060.5 L270.0,1058.2 L274.6,1058.1 L279.2,1059.9 L283.8,1062.9 L288.4,1065.8 L293.0,1068.0 L297.6,1069.4 L302.3,1070.2 L306.9,1071.0 L311.5,1072.1 L316.1,1073.1 L320.7,1073.2 L325.3,1072.9 L329.9,1072.1 L334.5,1070.9 L339.2,1070.1 L343.8,1069.8 L348.4,1069.4 L353.0,1068.1 L357.6,1066.1 L362.2,1063.4 L366.8,1060.7 L371.4,1058.3 L376.1,1056.6 L380.7,1056.0 L385.3,1056.4 L389.9,1057.6 L394.5,1059.7 L399.1,1062.5 L403.7,1065.2 L408.3,1067.3 L413.0,1068.5 L417.6,1068.5 L422.2,1067.8 L426.8,1067.2 L431.4,1066.5 L436.0,1066.1 L440.6,1067.4 L445.2,1068.9 L449.9,1070.1 L454.5,1071.2 L459.1,1071.6 L463.7,1070.3 L468.3,1068.0 L472.9,1064.4 L477.5,1060.0 L482.1,1055.9 L486.8,1052.5 L491.4,1050.3 L496.0,1050.2 L500.6,1052.8 L505.2,1056.1 L509.8,1060.0 L514.4,1063.9 L519.0,1067.4 L523.7,1069.3 L528.3,1070.4 L532.9,1070.2 L537.5,1069.4 L542.1,1068.3 L546.7,1066.6 L551.3,1064.9 L555.9,1063.3 L560.6,1061.7 L565.2,1060.7 L569.8,1060.2 L574.4,1059.5 L579.0,1058.3 L583.6,1056.5 L588.2,1054.4 L592.8,1052.4 L597.5,1050.7 L602.1,1050.5 L606.7,1052.6 L611.3,1056.6 L615.9,1061.4 L620.5,1066.1 L625.1,1069.7 L629.7,1071.1 L634.4,1070.1 L639.0,1068.7 L643.6,1067.4 L648.2,1066.3 L652.8,1066.4 L657.4,1066.5 L662.0,1064.7 L666.6,1061.9 L671.3,1060.2 L675.9,1059.4 L680.5,1058.0 L685.1,1056.3 L689.7,1056.1 L694.3,1056.5 L698.9,1055.6 L703.5,1055.2 L708.2,1055.5 L712.8,1055.1 L717.4,1054.3 L722.0,1055.9 L726.6,1059.6 L731.2,1064.2 L735.8,1068.5 L740.4,1071.5 L745.1,1071.4 L749.7,1070.4 L754.3,1069.7 L758.9,1069.0 L763.5,1067.4 L768.1,1065.7 L772.7,1064.0 L777.3,1062.9 L782.0,1062.0 L786.6,1060.7 L791.2,1058.5 L795.8,1054.3 L800.4,1049.0 L805.0,1045.5 L809.6,1044.4 L814.2,1044.6 L818.9,1045.7 L823.5,1047.5 L828.1,1048.9 L832.7,1050.4 L837.3,1052.9 L841.9,1056.7 L846.5,1060.9 L851.1,1063.8 L855.8,1064.4 L860.4,1065.2 L865.0,1066.0 L869.6,1066.0 L874.2,1065.0 L878.8,1064.2 L883.4,1062.5 L888.0,1060.3 L892.7,1059.3 L897.3,1061.3 L901.9,1065.8 L906.5,1071.3 L911.1,1076.7 L915.7,1080.5 L920.3,1081.6 L924.9,1079.7 L929.6,1077.3 L934.2,1075.7 L938.8,1074.6 L943.4,1075.0 L948.0,1077.0 L952.6,1078.6 L957.2,1079.1 L961.8,1079.5 L966.5,1079.9 L971.1,1079.8 L975.7,1079.6 L980.3,1079.7 L984.9,1079.6 L989.5,1079.8 L994.1,1080.7 L998.7,1081.9 L1003.4,1082.5 L1008.0,1082.0 L1012.6,1080.8 L1017.2,1079.5 L1021.8,1077.8 L1026.4,1075.9 L1031.0,1075.4 L1035.6,1075.3 L1040.3,1073.7 L1044.9,1072.3 L1049.5,1071.2 L1054.1,1070.2 L1058.7,1070.2 L1063.3,1072.2 L1067.9,1074.7 L1072.5,1077.5 L1077.2,1079.8 L1081.8,1080.9 L1086.4,1080.9 L1091.0,1080.4 L1095.6,1079.6 L1100.2,1078.4 L1104.8,1076.1 L1109.4,1071.9 L1114.1,1066.7 L1118.7,1061.3 L1123.3,1056.1 L1127.9,1051.9 L1132.5,1049.9 L1137.1,1049.7 L1141.7,1050.6 L1146.3,1052.5 L1151.0,1054.4 L1155.6,1054.4 L1160.2,1053.5 L1164.8,1055.3 L1169.4,1058.7 L1174.0,1062.8 L1178.6,1069.0 L1183.2,1075.4 L1187.9,1078.3 L1192.5,1078.6 L1197.1,1078.2 L1201.7,1077.5 L1206.3,1076.6 L1210.9,1075.5 L1215.5,1075.0 L1220.1,1075.4 L1224.8,1076.0 L1229.4,1076.7 L1234.0,1078.0 L1238.6,1079.4 L1243.2,1080.1 L1247.8,1080.6 L1252.4,1081.0 L1257.0,1081.3 L1261.7,1081.2 L1266.3,1081.0 L1270.9,1080.8 L1275.5,1080.4 L1280.1,1079.7 L1284.7,1078.5 L1289.3,1077.2 L1293.9,1076.6 L1298.6,1076.9 L1303.2,1077.7 L1307.8,1078.6 L1312.4,1078.8 L1317.0,1076.7 L1321.6,1073.0 L1326.2,1069.6 L1330.8,1066.8 L1335.5,1064.7 L1340.1,1063.9 L1344.7,1063.9 L1349.3,1063.1 L1353.9,1061.3 L1358.5,1059.7 L1363.1,1058.5 L1367.7,1057.5 L1372.4,1056.8 L1377.0,1057.3 L1381.6,1059.4 L1386.2,1062.5 L1390.8,1066.1 L1395.4,1069.6 L1400.0,1072.3 L1404.6,1073.3 L1409.3,1073.1 L1413.9,1072.3 L1418.5,1071.6 L1423.1,1071.0 L1427.7,1070.0 L1432.3,1068.4 L1436.9,1066.3 L1441.5,1063.7 L1446.2,1060.7 L1450.8,1058.6 L1455.4,1057.6 L1460.0,1056.9 L1464.6,1056.3 L1469.2,1055.5 L1473.8,1054.3 L1478.4,1052.6 L1483.1,1050.8 L1487.7,1049.8 L1492.3,1050.7 L1496.9,1053.3 L1501.5,1056.8 L1506.1,1061.1 L1510.7,1065.8 L1515.3,1069.4 L1520.0,1071.3 L1524.6,1072.5 L1529.2,1073.0 L1533.8,1072.7 L1538.4,1071.3 L1543.0,1069.8 L1547.6,1068.3 L1552.2,1065.5 L1556.9,1061.1 L1561.5,1057.6 L1566.1,1054.5 L1570.7,1051.0 L1575.3,1048.9 L1579.9,1049.1 L1584.5,1049.5 L1589.1,1050.2 L1593.8,1051.2 L1598.4,1051.8 L1603.0,1052.0 L1607.6,1053.0 L1612.2,1055.6 L1616.8,1059.9 L1621.4,1065.3 L1626.0,1071.0 L1630.7,1075.4 L1635.3,1077.1 L1639.9,1077.2 L1644.5,1075.8 L1649.1,1073.2 L1653.7,1070.9 L1658.3,1069.8 L1662.9,1069.5 L1667.6,1069.9 L1672.2,1070.6 L1676.8,1070.4 L1681.4,1068.6 L1686.0,1066.4 L1690.6,1065.2 L1695.2,1065.7 L1699.8,1067.4 L1704.5,1069.8 L1709.1,1071.9 L1713.7,1073.2 L1718.3,1074.1 L1722.9,1074.8 L1727.5,1075.4 L1732.1,1076.5 L1736.7,1077.5 L1741.4,1077.1 L1746.0,1075.4 L1750.6,1073.9 L1755.2,1072.2 L1759.8,1070.6 L1764.4,1069.4 L1769.0,1068.6 L1773.6,1067.8 L1778.3,1067.7 L1782.9,1067.4 L1787.5,1067.3 L1792.1,1069.1 L1796.7,1071.7 L1801.3,1072.5 L1805.9,1071.7 L1810.5,1069.8 L1815.2,1066.5 L1819.8,1063.1 L1824.4,1061.6 L1829.0,1063.0 L1833.6,1066.1 L1838.2,1069.3 L1842.8,1071.6 L1847.4,1072.9 L1852.1,1073.5 L1856.7,1074.1 L1861.3,1074.8 L1865.9,1075.1 L1870.5,1074.3 L1875.1,1072.2 L1879.7,1069.1 L1884.3,1066.0 L1889.0,1063.5 L1893.6,1061.2 L1898.2,1058.5 L1902.8,1055.7 L1907.4,1053.3 L1912.0,1050.9 L1916.6,1049.1 L1921.2,1048.2 L1925.9,1048.1 L1930.5,1048.7 L1935.1,1050.5 L1939.7,1054.0 L1944.3,1059.0 L1948.9,1064.3 L1953.5,1069.0 L1958.1,1071.9 L1962.8,1072.0 L1967.4,1071.1 L1972.0,1070.2 L1976.6,1069.2 L1981.2,1068.3 L1985.8,1067.7 L1990.4,1066.8 L1995.0,1065.6 L1999.7,1064.0 L2004.3,1062.3 L2008.9,1059.8 L2013.5,1057.1 L2018.1,1054.8 L2022.7,1052.6 L2027.3,1051.0 L2031.9,1050.6 L2036.6,1050.3 L2041.2,1049.6 L2045.8,1049.4 L2050.4,1050.8 L2055.0,1054.0 L2059.6,1058.3 L2064.2,1062.6 L2068.8,1066.3 L2073.5,1068.8 L2078.1,1069.6 L2082.7,1070.4 L2087.3,1071.5 L2091.9,1071.8 L2096.5,1071.1 L2101.1,1070.2 L2105.7,1068.6 L2110.4,1066.1 L2115.0,1062.7 L2119.6,1058.6 L2124.2,1054.4 L2128.8,1051.3 L2133.4,1050.6 L2138.0,1053.3 L2142.6,1058.5 L2147.3,1064.4 L2151.9,1069.3 L2156.5,1072.5 L2161.1,1074.2 L2165.7,1074.9 L2170.3,1075.1 L2174.9,1075.2 L2179.5,1075.0 L2184.2,1073.4 L2188.8,1070.0 L2193.4,1065.3 L2198.0,1059.4 L2202.6,1053.2 L2207.2,1048.2 L2211.8,1045.1 L2216.4,1043.9 L2221.1,1045.2 L2225.7,1048.7 L2230.3,1053.5 L2234.9,1057.9 L2239.5,1059.8 L2244.1,1060.4 L2248.7,1059.7 L2253.3,1057.5 L2258.0,1057.2 L2262.6,1060.1 L2267.2,1063.4 L2271.8,1067.0 L2276.4,1071.3 L2281.0,1074.6 L2285.6,1076.7 L2290.2,1078.3 L2294.9,1078.2 L2299.5,1075.1 L2304.1,1070.4 L2308.7,1066.1 L2313.3,1061.8 L2317.9,1058.5 L2322.5,1057.4 L2327.1,1056.7 L2331.8,1054.6 L2336.4,1053.1 L2340.7,1052.2 L2340.7,1051.9 L2340.7,1093.0 L116.2,1093.0 Z" fill="url(#mg)" stroke="none"/>
<path d="M116.2,1058.7 L117.8,1058.7 L122.4,1061.3 L127.0,1064.9 L131.6,1067.5 L136.2,1068.7 L140.8,1069.7 L145.4,1070.5 L150.0,1070.5 L154.7,1069.9 L159.3,1069.6 L163.9,1070.0 L168.5,1070.3 L173.1,1070.2 L177.7,1070.0 L182.3,1070.3 L186.9,1071.4 L191.6,1072.8 L196.2,1074.2 L200.8,1076.0 L205.4,1077.5 L210.0,1077.4 L214.6,1075.1 L219.2,1072.6 L223.8,1070.7 L228.5,1069.3 L233.1,1069.0 L237.7,1070.2 L242.3,1071.3 L246.9,1071.3 L251.5,1070.1 L256.1,1067.5 L260.7,1063.9 L265.4,1060.5 L270.0,1058.2 L274.6,1058.1 L279.2,1059.9 L283.8,1062.9 L288.4,1065.8 L293.0,1068.0 L297.6,1069.4 L302.3,1070.2 L306.9,1071.0 L311.5,1072.1 L316.1,1073.1 L320.7,1073.2 L325.3,1072.9 L329.9,1072.1 L334.5,1070.9 L339.2,1070.1 L343.8,1069.8 L348.4,1069.4 L353.0,1068.1 L357.6,1066.1 L362.2,1063.4 L366.8,1060.7 L371.4,1058.3 L376.1,1056.6 L380.7,1056.0 L385.3,1056.4 L389.9,1057.6 L394.5,1059.7 L399.1,1062.5 L403.7,1065.2 L408.3,1067.3 L413.0,1068.5 L417.6,1068.5 L422.2,1067.8 L426.8,1067.2 L431.4,1066.5 L436.0,1066.1 L440.6,1067.4 L445.2,1068.9 L449.9,1070.1 L454.5,1071.2 L459.1,1071.6 L463.7,1070.3 L468.3,1068.0 L472.9,1064.4 L477.5,1060.0 L482.1,1055.9 L486.8,1052.5 L491.4,1050.3 L496.0,1050.2 L500.6,1052.8 L505.2,1056.1 L509.8,1060.0 L514.4,1063.9 L519.0,1067.4 L523.7,1069.3 L528.3,1070.4 L532.9,1070.2 L537.5,1069.4 L542.1,1068.3 L546.7,1066.6 L551.3,1064.9 L555.9,1063.3 L560.6,1061.7 L565.2,1060.7 L569.8,1060.2 L574.4,1059.5 L579.0,1058.3 L583.6,1056.5 L588.2,1054.4 L592.8,1052.4 L597.5,1050.7 L602.1,1050.5 L606.7,1052.6 L611.3,1056.6 L615.9,1061.4 L620.5,1066.1 L625.1,1069.7 L629.7,1071.1 L634.4,1070.1 L639.0,1068.7 L643.6,1067.4 L648.2,1066.3 L652.8,1066.4 L657.4,1066.5 L662.0,1064.7 L666.6,1061.9 L671.3,1060.2 L675.9,1059.4 L680.5,1058.0 L685.1,1056.3 L689.7,1056.1 L694.3,1056.5 L698.9,1055.6 L703.5,1055.2 L708.2,1055.5 L712.8,1055.1 L717.4,1054.3 L722.0,1055.9 L726.6,1059.6 L731.2,1064.2 L735.8,1068.5 L740.4,1071.5 L745.1,1071.4 L749.7,1070.4 L754.3,1069.7 L758.9,1069.0 L763.5,1067.4 L768.1,1065.7 L772.7,1064.0 L777.3,1062.9 L782.0,1062.0 L786.6,1060.7 L791.2,1058.5 L795.8,1054.3 L800.4,1049.0 L805.0,1045.5 L809.6,1044.4 L814.2,1044.6 L818.9,1045.7 L823.5,1047.5 L828.1,1048.9 L832.7,1050.4 L837.3,1052.9 L841.9,1056.7 L846.5,1060.9 L851.1,1063.8 L855.8,1064.4 L860.4,1065.2 L865.0,1066.0 L869.6,1066.0 L874.2,1065.0 L878.8,1064.2 L883.4,1062.5 L888.0,1060.3 L892.7,1059.3 L897.3,1061.3 L901.9,1065.8 L906.5,1071.3 L911.1,1076.7 L915.7,1080.5 L920.3,1081.6 L924.9,1079.7 L929.6,1077.3 L934.2,1075.7 L938.8,1074.6 L943.4,1075.0 L948.0,1077.0 L952.6,1078.6 L957.2,1079.1 L961.8,1079.5 L966.5,1079.9 L971.1,1079.8 L975.7,1079.6 L980.3,1079.7 L984.9,1079.6 L989.5,1079.8 L994.1,1080.7 L998.7,1081.9 L1003.4,1082.5 L1008.0,1082.0 L1012.6,1080.8 L1017.2,1079.5 L1021.8,1077.8 L1026.4,1075.9 L1031.0,1075.4 L1035.6,1075.3 L1040.3,1073.7 L1044.9,1072.3 L1049.5,1071.2 L1054.1,1070.2 L1058.7,1070.2 L1063.3,1072.2 L1067.9,1074.7 L1072.5,1077.5 L1077.2,1079.8 L1081.8,1080.9 L1086.4,1080.9 L1091.0,1080.4 L1095.6,1079.6 L1100.2,1078.4 L1104.8,1076.1 L1109.4,1071.9 L1114.1,1066.7 L1118.7,1061.3 L1123.3,1056.1 L1127.9,1051.9 L1132.5,1049.9 L1137.1,1049.7 L1141.7,1050.6 L1146.3,1052.5 L1151.0,1054.4 L1155.6,1054.4 L1160.2,1053.5 L1164.8,1055.3 L1169.4,1058.7 L1174.0,1062.8 L1178.6,1069.0 L1183.2,1075.4 L1187.9,1078.3 L1192.5,1078.6 L1197.1,1078.2 L1201.7,1077.5 L1206.3,1076.6 L1210.9,1075.5 L1215.5,1075.0 L1220.1,1075.4 L1224.8,1076.0 L1229.4,1076.7 L1234.0,1078.0 L1238.6,1079.4 L1243.2,1080.1 L1247.8,1080.6 L1252.4,1081.0 L1257.0,1081.3 L1261.7,1081.2 L1266.3,1081.0 L1270.9,1080.8 L1275.5,1080.4 L1280.1,1079.7 L1284.7,1078.5 L1289.3,1077.2 L1293.9,1076.6 L1298.6,1076.9 L1303.2,1077.7 L1307.8,1078.6 L1312.4,1078.8 L1317.0,1076.7 L1321.6,1073.0 L1326.2,1069.6 L1330.8,1066.8 L1335.5,1064.7 L1340.1,1063.9 L1344.7,1063.9 L1349.3,1063.1 L1353.9,1061.3 L1358.5,1059.7 L1363.1,1058.5 L1367.7,1057.5 L1372.4,1056.8 L1377.0,1057.3 L1381.6,1059.4 L1386.2,1062.5 L1390.8,1066.1 L1395.4,1069.6 L1400.0,1072.3 L1404.6,1073.3 L1409.3,1073.1 L1413.9,1072.3 L1418.5,1071.6 L1423.1,1071.0 L1427.7,1070.0 L1432.3,1068.4 L1436.9,1066.3 L1441.5,1063.7 L1446.2,1060.7 L1450.8,1058.6 L1455.4,1057.6 L1460.0,1056.9 L1464.6,1056.3 L1469.2,1055.5 L1473.8,1054.3 L1478.4,1052.6 L1483.1,1050.8 L1487.7,1049.8 L1492.3,1050.7 L1496.9,1053.3 L1501.5,1056.8 L1506.1,1061.1 L1510.7,1065.8 L1515.3,1069.4 L1520.0,1071.3 L1524.6,1072.5 L1529.2,1073.0 L1533.8,1072.7 L1538.4,1071.3 L1543.0,1069.8 L1547.6,1068.3 L1552.2,1065.5 L1556.9,1061.1 L1561.5,1057.6 L1566.1,1054.5 L1570.7,1051.0 L1575.3,1048.9 L1579.9,1049.1 L1584.5,1049.5 L1589.1,1050.2 L1593.8,1051.2 L1598.4,1051.8 L1603.0,1052.0 L1607.6,1053.0 L1612.2,1055.6 L1616.8,1059.9 L1621.4,1065.3 L1626.0,1071.0 L1630.7,1075.4 L1635.3,1077.1 L1639.9,1077.2 L1644.5,1075.8 L1649.1,1073.2 L1653.7,1070.9 L1658.3,1069.8 L1662.9,1069.5 L1667.6,1069.9 L1672.2,1070.6 L1676.8,1070.4 L1681.4,1068.6 L1686.0,1066.4 L1690.6,1065.2 L1695.2,1065.7 L1699.8,1067.4 L1704.5,1069.8 L1709.1,1071.9 L1713.7,1073.2 L1718.3,1074.1 L1722.9,1074.8 L1727.5,1075.4 L1732.1,1076.5 L1736.7,1077.5 L1741.4,1077.1 L1746.0,1075.4 L1750.6,1073.9 L1755.2,1072.2 L1759.8,1070.6 L1764.4,1069.4 L1769.0,1068.6 L1773.6,1067.8 L1778.3,1067.7 L1782.9,1067.4 L1787.5,1067.3 L1792.1,1069.1 L1796.7,1071.7 L1801.3,1072.5 L1805.9,1071.7 L1810.5,1069.8 L1815.2,1066.5 L1819.8,1063.1 L1824.4,1061.6 L1829.0,1063.0 L1833.6,1066.1 L1838.2,1069.3 L1842.8,1071.6 L1847.4,1072.9 L1852.1,1073.5 L1856.7,1074.1 L1861.3,1074.8 L1865.9,1075.1 L1870.5,1074.3 L1875.1,1072.2 L1879.7,1069.1 L1884.3,1066.0 L1889.0,1063.5 L1893.6,1061.2 L1898.2,1058.5 L1902.8,1055.7 L1907.4,1053.3 L1912.0,1050.9 L1916.6,1049.1 L1921.2,1048.2 L1925.9,1048.1 L1930.5,1048.7 L1935.1,1050.5 L1939.7,1054.0 L1944.3,1059.0 L1948.9,1064.3 L1953.5,1069.0 L1958.1,1071.9 L1962.8,1072.0 L1967.4,1071.1 L1972.0,1070.2 L1976.6,1069.2 L1981.2,1068.3 L1985.8,1067.7 L1990.4,1066.8 L1995.0,1065.6 L1999.7,1064.0 L2004.3,1062.3 L2008.9,1059.8 L2013.5,1057.1 L2018.1,1054.8 L2022.7,1052.6 L2027.3,1051.0 L2031.9,1050.6 L2036.6,1050.3 L2041.2,1049.6 L2045.8,1049.4 L2050.4,1050.8 L2055.0,1054.0 L2059.6,1058.3 L2064.2,1062.6 L2068.8,1066.3 L2073.5,1068.8 L2078.1,1069.6 L2082.7,1070.4 L2087.3,1071.5 L2091.9,1071.8 L2096.5,1071.1 L2101.1,1070.2 L2105.7,1068.6 L2110.4,1066.1 L2115.0,1062.7 L2119.6,1058.6 L2124.2,1054.4 L2128.8,1051.3 L2133.4,1050.6 L2138.0,1053.3 L2142.6,1058.5 L2147.3,1064.4 L2151.9,1069.3 L2156.5,1072.5 L2161.1,1074.2 L2165.7,1074.9 L2170.3,1075.1 L2174.9,1075.2 L2179.5,1075.0 L2184.2,1073.4 L2188.8,1070.0 L2193.4,1065.3 L2198.0,1059.4 L2202.6,1053.2 L2207.2,1048.2 L2211.8,1045.1 L2216.4,1043.9 L2221.1,1045.2 L2225.7,1048.7 L2230.3,1053.5 L2234.9,1057.9 L2239.5,1059.8 L2244.1,1060.4 L2248.7,1059.7 L2253.3,1057.5 L2258.0,1057.2 L2262.6,1060.1 L2267.2,1063.4 L2271.8,1067.0 L2276.4,1071.3 L2281.0,1074.6 L2285.6,1076.7 L2290.2,1078.3 L2294.9,1078.2 L2299.5,1075.1 L2304.1,1070.4 L2308.7,1066.1 L2313.3,1061.8 L2317.9,1058.5 L2322.5,1057.4 L2327.1,1056.7 L2331.8,1054.6 L2336.4,1053.1 L2340.7,1052.2 L2340.7,1051.9" fill="none" stroke="#7085ab" stroke-width="2.1" stroke-linejoin="round"/>
<path d="M115.2,1035 L115.2,1092.5 L2340.5,1092.5 L2340.5,1035" fill="none" stroke="#000" stroke-width="2"/>
<rect x="107.9" y="1052.6" width="12.2" height="22.6" rx="3" ry="3" fill="#fff" stroke="#222" stroke-width="1.7"/>
<line x1="112.3" y1="1057" x2="112.3" y2="1071" stroke="#333" stroke-width="1.35"/>
<line x1="115.7" y1="1057" x2="115.7" y2="1071" stroke="#333" stroke-width="1.35"/>
<rect x="2334.4" y="1052.6" width="12.2" height="22.6" rx="3" ry="3" fill="#fff" stroke="#222" stroke-width="1.7"/>
<line x1="2338.8" y1="1057" x2="2338.8" y2="1071" stroke="#333" stroke-width="1.35"/>
<line x1="2342.2" y1="1057" x2="2342.2" y2="1071" stroke="#333" stroke-width="1.35"/>
<text x="129" y="815.8" font-family="'Liberation Sans', sans-serif" font-size="18" fill="#f44">15.0 µg/m3</text>
<text transform="translate(37.3,575) rotate(-90)" text-anchor="middle" font-family="'Liberation Sans', sans-serif" font-size="24" fill="#111">Particulate Matter(PM) 2.5 µg/m3</text>
</svg>
<div class="t title" style="top:16.2px;">Time Series - PM2.5 Recordings For May 2025- Aburi</div>
<div class="t title" style="top:50.2px;color:#f00;">Particulate Matter(PM2.5) should be below 15.0µg/m3</div>
<div class="t yl" style="top:987.0px;">0</div>
<div class="t yl" style="top:928.3px;">5</div>
<div class="t yl" style="top:869.5px;">10</div>
<div class="t yl" style="top:810.8px;">15</div>
<div class="t yl" style="top:752.1px;">20</div>
<div class="t yl" style="top:693.3px;">25</div>
<div class="t yl" style="top:634.6px;">30</div>
<div class="t yl" style="top:575.9px;">35</div>
<div class="t yl" style="top:517.1px;">40</div>
<div class="t yl" style="top:458.4px;">45</div>
<div class="t yl" style="top:399.6px;">50</div>
<div class="t yl" style="top:340.9px;">55</div>
<div class="t yl" style="top:282.2px;">60</div>
<div class="t yl" style="top:223.4px;">65</div>
<div class="t yl" style="top:164.7px;">70</div>
<div class="t yl" style="top:106.0px;">75</div>
<div class="t xl" style="left:68.6px;top:1002.8px;">11 May</div>
<div class="t xl" style="left:179.2px;top:1002.8px;">12 May</div>
<div class="t xl" style="left:289.9px;top:1002.8px;">13 May</div>
<div class="t xl" style="left:400.6px;top:1002.8px;">14 May</div>
<div class="t xl" style="left:511.2px;top:1002.8px;">15 May</div>
<div class="t xl" style="left:621.9px;top:1002.8px;">16 May</div>
<div class="t xl" style="left:732.5px;top:1002.8px;">17 May</div>
<div class="t xl" style="left:843.2px;top:1002.8px;">18 May</div>
<div class="t xl" style="left:953.8px;top:1002.8px;">19 May</div>
<div class="t xl" style="left:1064.5px;top:1002.8px;">20 May</div>
<div class="t xl" style="left:1175.1px;top:1002.8px;">21 May</div>
<div class="t xl" style="left:1285.8px;top:1002.8px;">22 May</div>
<div class="t xl" style="left:1396.4px;top:1002.8px;">23 May</div>
<div class="t xl" style="left:1507.0px;top:1002.8px;">24 May</div>
<div class="t xl" style="left:1617.7px;top:1002.8px;">25 May</div>
<div class="t xl" style="left:1728.3px;top:1002.8px;">26 May</div>
<div class="t xl" style="left:1839.0px;top:1002.8px;">27 May</div>
<div class="t xl" style="left:1949.7px;top:1002.8px;">28 May</div>
<div class="t xl" style="left:2060.3px;top:1002.8px;">29 May</div>
<div class="t xl" style="left:2170.9px;top:1002.8px;">30 May</div>
<div class="t" style="left:0;width:2356px;text-align:center;top:1095.6px;font-size:24px;color:#000;">Time Period</div>
<div class="roller">30</div>
</body></html>
